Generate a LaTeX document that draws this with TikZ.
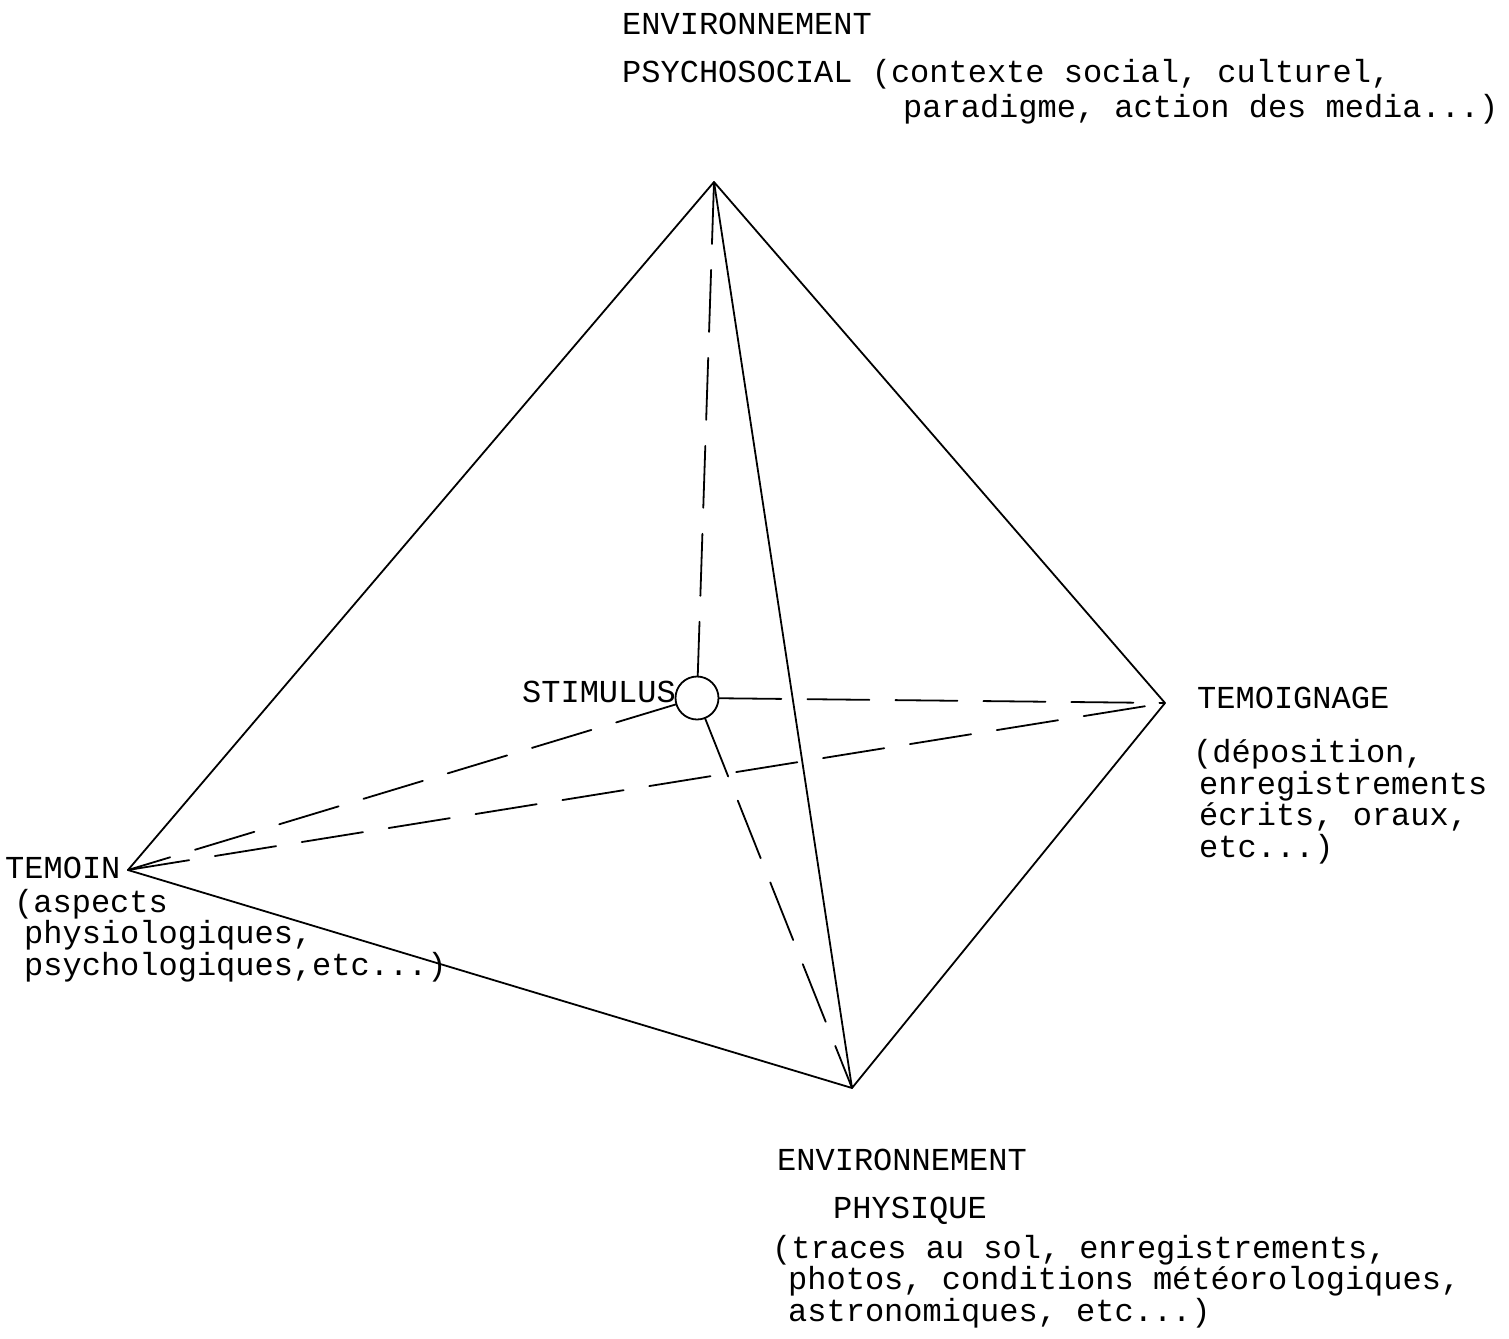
\documentclass[tikz,border=0pt]{standalone}
\usepackage{fontspec}
\setmonofont{Liberation Mono}
\usetikzlibrary{positioning}
\begin{document}
\begin{tikzpicture}[x=1pt,y=-1pt,line join=round,line cap=round,
    arete/.style={line width=1.8pt},
    cache/.style={line width=1.8pt,dash pattern=on 62pt off 26pt},
    lbl/.style={font=\fontsize{32}{31.5}\selectfont\ttfamily,inner sep=0pt,align=left}]
    \useasboundingbox (0,0) rectangle (1509,1338);
    % sommets
    \coordinate (haut) at (714,182);
    \coordinate (temoin) at (128,870);
    \coordinate (temoignage) at (1165,703);
    \coordinate (bas) at (852,1088);
    \node[draw,circle,line width=1.8pt,minimum size=43pt,inner sep=0pt] (stim) at (697,698) {};
    % aretes vues
    \draw[arete] (haut) -- (temoin) -- (bas) -- (temoignage) -- (haut) -- (bas);
    % aretes cachees
    \draw[cache] (haut) -- (stim);
    \draw[cache] (stim) -- (temoignage);
    \draw[cache] (stim) -- (temoin);
    \draw[cache] (stim) -- (bas);
    \draw[cache] (temoin) -- (temoignage);
    % textes (base = ligne du bas)
    \node[lbl,anchor=base west] (envpsy) at (622,35) {ENVIRONNEMENT};
    \node[lbl,anchor=base west] (psy) at (622,82) {PSYCHOSOCIAL (contexte social, culturel,};
    \node[lbl,anchor=base west] (psydet) at (903,117) {paradigme, action des media...)};
    \node[lbl,anchor=base east] (stimlbl) at (676,702) {STIMULUS};
    \node[lbl,anchor=base west] (temlbl) at (5,878) {TEMOIN};
    \node[lbl,anchor=base west] (temdet) at (14,975) {(aspects\\\hspace*{10pt}physiologiques,\\\hspace*{10pt}psychologiques,etc...)};
    \node[lbl,anchor=base west] (tglbl) at (1197,708) {TEMOIGNAGE};
    \node[lbl,anchor=base west] (tgdet) at (1193,857) {(déposition,\\\hspace*{6pt}enregistrements\\\hspace*{6pt}écrits, oraux,\\\hspace*{6pt}etc...)};
    \node[lbl,anchor=base west] (envphy) at (777,1170) {ENVIRONNEMENT};
    \node[lbl,anchor=base west] (phy) at (833,1218) {PHYSIQUE};
    \node[lbl,anchor=base west] (phydet) at (772,1321) {(traces au sol, enregistrements,\\\hspace*{16pt}photos, conditions météorologiques,\\\hspace*{16pt}astronomiques, etc...)};
\end{tikzpicture}
\end{document}
